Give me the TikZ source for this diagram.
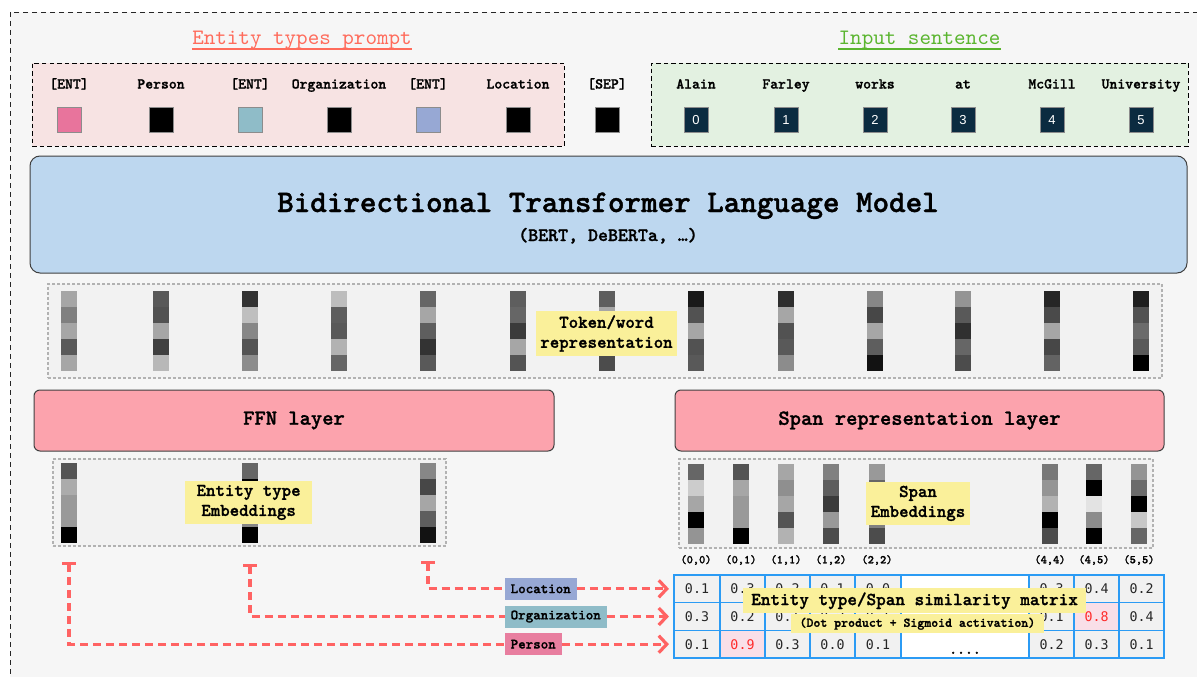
\documentclass[tikz,border=0pt]{standalone}
\usepackage{fontspec}
\setsansfont{Liberation Sans}
\setmonofont{lmmono10-regular.otf}[BoldFont=lmmonolt10-bold.otf, BoldFeatures={FakeBold=1.3}]
\newfontfamily\numfont{DejaVu Sans Mono}
\renewcommand{\familydefault}{\ttdefault}
\usetikzlibrary{arrows.meta,positioning}

\definecolor{bgGray}{HTML}{F6F6F6}
\definecolor{promptPink}{HTML}{F7E3E3}
\definecolor{sentGreen}{HTML}{E3F1E1}
\definecolor{titleRed}{HTML}{FF6B5B}
\definecolor{titleGreen}{HTML}{5AB52F}
\definecolor{entPink}{HTML}{E8749C}
\definecolor{entTeal}{HTML}{8FBCC8}
\definecolor{entBlue}{HTML}{97A8D4}
\definecolor{wordNavy}{HTML}{0B2B40}
\definecolor{modelBlue}{HTML}{BDD7EF}
\definecolor{layerPink}{HTML}{FCA3AD}
\definecolor{noteYellow}{HTML}{FAF09A}
\definecolor{embGray}{HTML}{F2F2F2}
\definecolor{matBlue}{HTML}{2B9BF4}
\definecolor{cellGray}{HTML}{F1F1F1}
\definecolor{hotPink}{HTML}{F9DFE8}
\definecolor{hotRed}{HTML}{FF2A2A}
\definecolor{linkRed}{HTML}{FF6363}
\definecolor{perPink}{HTML}{E87E9F}

\tikzset{
  groupbox/.style={draw=black, line width=0.9pt, dash pattern=on 4.5pt off 3pt, inner sep=0pt},
  heading/.style={font=\ttfamily\fontsize{22}{24}\selectfont, inner sep=0pt, anchor=base},
  tok/.style={font=\ttfamily\bfseries\fontsize{15}{16}\selectfont, inner sep=0pt, anchor=base},
  sq/.style={minimum width=24pt, minimum height=25pt, inner sep=0pt, draw=black!45, line width=0.8pt},
  lmbox/.style={draw=black!75, line width=1pt, fill=modelBlue, rounded corners=10pt, inner sep=0pt},
  embbox/.style={draw=black!30, line width=1.2pt, dash pattern=on 3pt off 2pt, fill=embGray, inner sep=0pt},
  barcol/.style={minimum width=16pt, minimum height=80pt, inner sep=0pt, outer sep=0pt},
  layerbox/.style={draw=black!75, line width=1pt, fill=layerPink, rounded corners=6pt,
    font=\ttfamily\bfseries\fontsize{21.5}{23}\selectfont},
  note/.style={fill=noteYellow, align=center, inner xsep=4.5pt, inner ysep=4pt,
    font=\ttfamily\bfseries\fontsize{18}{20}\selectfont},
  spanlbl/.style={font=\ttfamily\bfseries\fontsize{11.8}{13}\selectfont, inner sep=0pt},
  mcell/.style={draw=matBlue, line width=1.6pt, fill=cellGray, minimum width=45.5pt,
    minimum height=27.7pt, inner sep=0pt, text=black!85, font=\numfont\fontsize{13.3}{14}\selectfont},
  hotcell/.style={mcell, fill=hotPink, text=hotRed},
  gapcell/.style={mcell, fill=white, minimum width=128pt},
  tag/.style={anchor=west, inner xsep=6pt, inner ysep=0pt, minimum height=22pt,
    font=\ttfamily\bfseries\fontsize{14.3}{15}\selectfont},
  link/.style={draw=linkRed, line width=3.2pt, dash pattern=on 8pt off 5pt},
  barb/.style={-{Straight Barb[length=8pt,width=17pt]}, shorten >=4.5pt}
}

\newcommand{\embbar}[4]{%
  \node[barcol] (#1) at (#2,#3) {};
  \foreach \g [count=\i] in #4
    \fill[black!\g] ([yshift={-(\i-1)*16pt}]#1.north west) rectangle ++(16,16);
}

\begin{document}
\begin{tikzpicture}[x=1pt, y=-1pt]
\useasboundingbox (0,0) rectangle (1197,677);
\fill[white] (0,0) rectangle (1197,677);
\draw[black!85, line width=0.8pt, dash pattern=on 5pt off 4pt, fill=bgGray] (10,12) rectangle (1230,700);

% inputs
\node[groupbox, fill=promptPink, minimum width=532pt, minimum height=83pt] (prompt) at (298,104.5) {};
\node[groupbox, fill=sentGreen, minimum width=537pt, minimum height=83pt] (sentence) at (919.5,104.5) {};

\node[heading, text=titleRed] (prompt_title) at (302,45) {Entity types prompt};
\draw[titleRed, line width=2pt] ([yshift=-4pt]prompt_title.base west) -- ([yshift=-4pt]prompt_title.base east);
\node[heading, text=titleGreen] (sentence_title) at (919.5,45) {Input sentence};
\draw[titleGreen, line width=2pt] ([yshift=-4pt]sentence_title.base west) -- ([yshift=-4pt]sentence_title.base east);

\foreach \n/\x/\t/\c in {1/69/{[ENT]}/entPink, 2/161/Person/black, 3/250/{[ENT]}/entTeal,
    4/339/Organization/black, 5/428/{[ENT]}/entBlue, 6/518/Location/black, 7/607/{[SEP]}/black} {
  \node[tok] (P_\n) at (\x,88.5) {\t};
  \node[sq, fill=\c] (Q_\n) at (\x,120) {};
}
\foreach \n/\x/\t in {0/696/Alain, 1/786/Farley, 2/875/works, 3/963/at, 4/1052/McGill, 5/1141/University} {
  \node[tok] (W_\n) at (\x,88.5) {\t};
  \node[sq, fill=wordNavy, text=white, font=\sffamily\fontsize{13}{13}\selectfont] (N_\n) at (\x,120) {\n};
}

% encoder
\node[lmbox, minimum width=1157pt, minimum height=117pt] (LM) at (608.5,214.5) {};
\node[anchor=base, inner sep=0pt, font=\ttfamily\bfseries\fontsize{31.5}{33}\selectfont] (LM_name) at (608,212) {Bidirectional Transformer Language Model};
\node[anchor=base, inner sep=0pt, font=\ttfamily\bfseries\fontsize{19}{21}\selectfont] (LM_note) at (608,241) {(BERT, DeBERTa, …)};

% token representation
\node[embbox, minimum width=1114pt, minimum height=94pt] (tokbox) at (605,331) {};
\foreach \n/\x/\gs in {1/69/{35,50,35,65,35}, 2/161/{65,68,35,75,28}, 3/250/{80,25,47,67,45},
    4/339/{26,63,65,30,60}, 5/428/{60,35,63,80,65}, 6/518/{63,60,77,35,67}, 7/607/{63,35,53,60,70},
    8/696/{90,68,35,68,65}, 9/786/{82,35,68,65,45}, 10/875/{47,72,35,63,93}, 11/963/{42,65,81,60,70},
    12/1052/{85,71,35,72,61}, 13/1141/{88,68,58,65,100}}
  \embbar{T_\n}{\x}{331}{\gs};
\node[note] (tok_note) at (606.5,333.5) {Token/word\\representation};

% layers
\node[layerbox, minimum width=520pt, minimum height=61pt] (ffn) at (294,420.5) {FFN layer};
\node[layerbox, minimum width=489pt, minimum height=61pt] (spanlayer) at (919.5,420.5) {Span representation layer};

% entity type embeddings
\node[embbox, minimum width=393pt, minimum height=87pt] (entbox) at (249.5,502.5) {};
\foreach \n/\x/\gs in {1/69/{67,33,40,40,100}, 2/250/{60,100,53,47,100}, 3/428/{47,72,35,63,93}}
  \embbar{E_\n}{\x}{502.7}{\gs};
\node[note, minimum width=127pt] (ent_note) at (248.6,502.4) {Entity type\\Embeddings};

% span embeddings
\node[embbox, minimum width=474pt, minimum height=89pt] (spanbox) at (916,503.5) {};
\foreach \n/\x/\gs in {1/696/{60,20,35,100,42}, 2/741/{67,35,40,40,100}, 3/786/{35,44,35,67,30},
    4/831/{50,63,77,40,70}, 5/877/{40,60,70,50,70}, 6/1050/{53,42,30,100,70},
    7/1094/{60,100,11,45,100}, 8/1139/{42,58,100,22,60}}
  \embbar{S_\n}{\x}{504}{\gs};
\node[note] (span_note) at (918,503.4) {Span\\Embeddings};

\foreach \n/\x/\t in {1/696/{(0,0)}, 2/741/{(0,1)}, 3/786/{(1,1)}, 4/831/{(1,2)}, 5/877/{(2,2)},
    6/1050/{(4,4)}, 7/1094/{(4,5)}, 8/1139/{(5,5)}}
  \node[spanlbl] (C_\n) at (\x,560) {\t};

% similarity matrix
\foreach \x/\v/\s [count=\c] in {697/0.1/mcell, 742.5/0.3/mcell, 787.5/0.2/mcell, 832.5/0.1/mcell,
    878/0.0/mcell, 965//gapcell, 1051.5/0.3/mcell, 1096.5/0.4/mcell, 1141.5/0.2/mcell}
  \node[\s] (M_1_\c) at (\x,588.8) {\v};
\foreach \x/\v/\s [count=\c] in {697/0.3/mcell, 742.5/0.2/mcell, 787.5/0.1/mcell, 832.5/0.2/mcell,
    878/0.1/mcell, 965//gapcell, 1051.5/0.1/mcell, 1096.5/0.8/hotcell, 1141.5/0.4/mcell}
  \node[\s] (M_2_\c) at (\x,616.5) {\v};
\foreach \x/\v/\s [count=\c] in {697/0.1/mcell, 742.5/0.9/hotcell, 787.5/0.3/mcell, 832.5/0.0/mcell,
    878/0.1/mcell, 965//gapcell, 1051.5/0.2/mcell, 1096.5/0.3/mcell, 1141.5/0.1/mcell}
  \node[\s] (M_3_\c) at (\x,644.2) {\v};
\node[anchor=base, inner sep=0pt, font=\ttfamily\bfseries\fontsize{15}{16}\selectfont] (M_dots) at ([yshift=5pt]M_3_6.south) {....};

% entity type queries
\node[tag, fill=entBlue] (L_loc) at (504.5,588.8) {Location};
\node[tag, fill=entTeal] (L_org) at (504.5,616.5) {Organization};
\node[tag, fill=perPink] (L_per) at (504.5,644.2) {Person};

\coordinate (cap_L) at (428,561);
\coordinate (cap_O) at (250,564);
\coordinate (cap_P) at (69,562);

\draw[link, {Bar[width=14pt]}-] (cap_L) |- (L_loc);
\draw[link, {Bar[width=14pt]}-] (cap_O) |- (L_org);
\draw[link, {Bar[width=14pt]}-] (cap_P) |- (L_per);
\draw[link, barb] (L_loc) -- (M_1_1);
\draw[link, barb] (L_org) -- (M_2_1);
\draw[link, barb] (L_per) -- (M_3_1);

\node[note, inner xsep=8pt, inner ysep=0pt, minimum height=25pt, font=\ttfamily\bfseries\fontsize{18.3}{19}\selectfont] (sim_note) at (914.6,600.8) {Entity type/Span similarity matrix};
\node[note, inner xsep=9pt, inner ysep=0pt, minimum height=19.3pt, font=\ttfamily\bfseries\fontsize{13.2}{14}\selectfont] (sim_sub) at (917.4,623.7) {(Dot product + Sigmoid activation)};
\end{tikzpicture}
\end{document}
